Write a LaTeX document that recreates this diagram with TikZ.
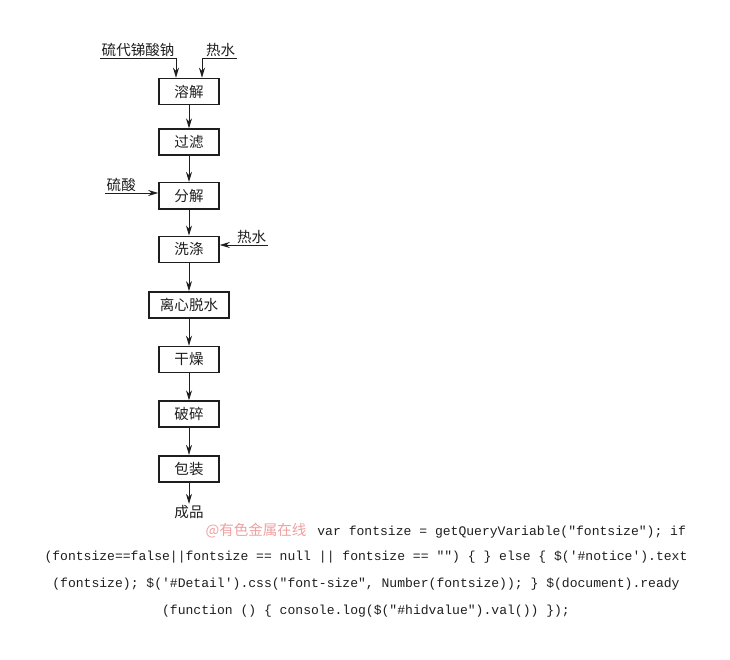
\documentclass[tikz,border=0pt]{standalone}
\usepackage{fontspec}
\newfontfamily\cjk{Noto Sans CJK SC}
\setmonofont{Liberation Mono}
\usetikzlibrary{arrows.meta,positioning}
\definecolor{ink}{RGB}{30,30,30}
\definecolor{pinkmark}{RGB}{240,160,160}
\tikzset{
  every picture/.style={color=ink, line width=0.6pt, font=\cjk\fontsize{10.9}{12}\selectfont},
  stage/.style={draw=ink, line width=1.2pt, minimum width=45pt, minimum height=19.5pt, inner sep=2pt},
  wide/.style={stage, minimum width=60pt},
  feed/.style={inner sep=1pt},
  flow/.style={-{Stealth[length=7.5pt,width=4.5pt]}, line width=0.6pt},
  code/.style={font=\ttfamily\fontsize{9.8}{12}\selectfont, inner sep=0pt},
  wmark/.style={text=pinkmark, inner sep=0pt},
}

\begin{document}
\begin{tikzpicture}[x=0.75pt, y=-0.75pt]
  \useasboundingbox (0,0) rectangle (730,659);
  % process chain, top to bottom
  \node[stage] (dissolve) at (189,91.5) {溶解};
  \node[stage, below=17.25pt of dissolve] (filter) {过滤};
  \node[stage, below=19.5pt of filter] (decomp) {分解};
  \node[stage, below=19.5pt of decomp] (wash) {洗涤};
  \node[wide, below=21pt of wash] (spin) {离心脱水};
  \node[stage, below=20.25pt of spin] (dry) {干燥};
  \node[stage, below=20.25pt of dry] (crush) {破碎};
  \node[stage, below=20.25pt of crush] (pack) {包装};
  \node[feed, below=16pt of pack] (product) {成品};
  \draw[flow] (dissolve) -- (filter); \draw[flow] (filter) -- (decomp);
  \draw[flow] (decomp) -- (wash); \draw[flow] (wash) -- (spin);
  \draw[flow] (spin) -- (dry); \draw[flow] (dry) -- (crush);
  \draw[flow] (crush) -- (pack); \draw[flow] (pack) -- (product);
  % feeds
  \node[feed, anchor=south west] (sodium) at (100,58) {硫代锑酸钠};
  \node[feed, anchor=south east] (hotA) at (237,58) {热水};
  \node[feed, anchor=south west] (acid) at (105,193) {硫酸};
  \node[feed, anchor=south east] (hotB) at (268,245) {热水};
  \draw[flow] (sodium.south west) -| ([xshift=-9.75pt]dissolve.north);
  \draw[flow] (hotA.south east) -| ([xshift=9.75pt]dissolve.north);
  \draw[flow] (acid.south west) -- (acid.south west -| decomp.west);
  \draw[flow] (hotB.south east) -- (hotB.south east -| wash.east);
  % page residue under the chart
  \node[wmark] (site) at (256,531) {@有色金属在线};
  \node[code, anchor=west] (codeA) at (317,532) {var fontsize = getQueryVariable("fontsize"); if};
  \node[code] (codeB) at (366,557) {(fontsize==false||fontsize == null || fontsize == "") \{ \} else \{ \$('\#notice').text};
  \node[code] (codeC) at (366,584) {(fontsize); \$('\#Detail').css("font-size", Number(fontsize)); \} \$(document).ready};
  \node[code] (codeD) at (366,611) {(function () \{ console.log(\$("\#hidvalue").val()) \});};
\end{tikzpicture}
\end{document}
